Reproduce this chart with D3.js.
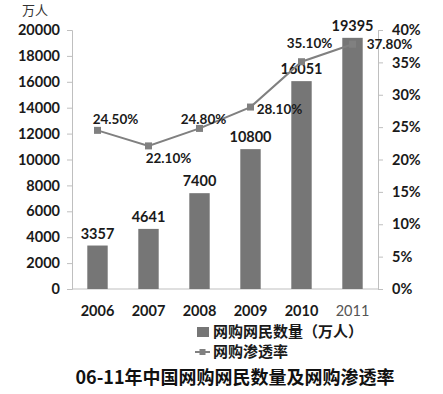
<!DOCTYPE html>
<html><head><meta charset="utf-8">
<script src="https://cdn.jsdelivr.net/npm/d3@7"></script>
<style>body{margin:0;background:#fff}svg{display:block}</style>
</head><body>
<svg id="c" width="443" height="394"></svg>
<script>
const years = ["2006","2007","2008","2009","2010","2011"];
const users = [3357, 4641, 7400, 10800, 16051, 19395];
const rates = [24.5, 22.1, 24.8, 28.1, 35.1, 37.8];
const leftTicks = [0,2000,4000,6000,8000,10000,12000,14000,16000,18000,20000];
const rightTicks = [0,5,10,15,20,25,30,35,40];
const barName = "网购网民数量（万人）";
const lineName = "网购渗透率";
const unitLabel = "万人";
const title = "06-11年中国网购网民数量及网购渗透率";
// label offsets (layout only)
const rateLabelOffset = [[18,-11],[20,12],[4,-9],[29,2],[8,-18],[37,0]];

const svg = d3.select("#c");
const L = 72, R = 378, T = 30, B = 289;
const numFont = "Lato, 'Open Sans', sans-serif";
const cjkFont = "'Noto Sans CJK SC', sans-serif";

const x = d3.scaleBand().domain(years).range([L, R]).paddingInner(0.6).paddingOuter(0.3);
const yL = d3.scaleLinear().domain([0, 20000]).range([B, T]);
const yR = d3.scaleLinear().domain([0, 40]).range([B, T]);

// axes
const axL = svg.append("g").attr("transform", `translate(${L},0)`)
  .call(d3.axisLeft(yL).tickValues(leftTicks).tickSize(5).tickPadding(7).tickFormat(d3.format("d")));
const axR = svg.append("g").attr("transform", `translate(${R},0)`)
  .call(d3.axisRight(yR).tickValues(rightTicks).tickSize(5).tickPadding(9).tickFormat(d => d + "%"));
const axB = svg.append("g").attr("transform", `translate(0,${B})`)
  .call(d3.axisBottom(x).tickSize(0).tickPadding(17));
[axL, axR, axB].forEach(a => {
  a.selectAll(".domain").attr("stroke", "#bfbfbf");
  a.selectAll(".tick line").attr("stroke", "#bfbfbf");
  a.selectAll("text").attr("font-family", numFont).attr("font-weight", "bold")
    .attr("font-size", 14.5).attr("fill", "#1a1a1a");
});
axB.select(".domain").attr("d", `M${L},0H${R}`);
axB.selectAll(".tick text").filter(d => d === "2011").attr("font-weight", "normal").attr("fill", "#555");

// bars
svg.append("g").selectAll("rect").data(users).join("rect")
  .attr("x", (d, i) => x(years[i]))
  .attr("width", x.bandwidth())
  .attr("y", d => yL(d))
  .attr("height", d => B - yL(d))
  .attr("fill", "#767676");
svg.append("g").selectAll("text").data(users).join("text")
  .attr("x", (d, i) => x(years[i]) + x.bandwidth() / 2)
  .attr("y", d => yL(d) - 7)
  .attr("text-anchor", "middle")
  .attr("font-family", numFont).attr("font-weight", "bold").attr("font-size", 14.5).attr("fill", "#1a1a1a")
  .text(d => d);

// line
const cx = i => x(years[i]) + x.bandwidth() / 2;
svg.append("path").datum(rates)
  .attr("fill", "none").attr("stroke", "#808080").attr("stroke-width", 2)
  .attr("d", d3.line().x((d, i) => cx(i)).y(d => yR(d)));
svg.append("g").selectAll("rect").data(rates).join("rect")
  .attr("x", (d, i) => cx(i) - 3.5).attr("y", d => yR(d) - 3.5)
  .attr("width", 7).attr("height", 7).attr("fill", "#808080");
svg.append("g").selectAll("text").data(rates).join("text")
  .attr("x", (d, i) => cx(i) + rateLabelOffset[i][0])
  .attr("y", (d, i) => yR(d) + rateLabelOffset[i][1])
  .attr("dy", "0.35em")
  .attr("text-anchor", "middle")
  .attr("font-family", numFont).attr("font-weight", "bold").attr("font-size", 13.5).attr("fill", "#1a1a1a")
  .text(d => d.toFixed(2) + "%");

// unit label
svg.append("text").attr("x", 35).attr("y", 15).attr("text-anchor", "middle")
  .attr("font-family", cjkFont).attr("font-size", 13).attr("fill", "#333").text(unitLabel);

// legend
const lg = svg.append("g");
lg.append("rect").attr("x", 197).attr("y", 327).attr("width", 12).attr("height", 10).attr("fill", "#767676");
lg.append("text").attr("x", 213).attr("y", 332).attr("dy", "0.35em")
  .attr("font-family", cjkFont).attr("font-weight", "bold").attr("font-size", 15).attr("fill", "#1a1a1a").text(barName);
lg.append("line").attr("x1", 195).attr("x2", 210).attr("y1", 352).attr("y2", 352).attr("stroke", "#808080").attr("stroke-width", 2);
lg.append("rect").attr("x", 199.5).attr("y", 349).attr("width", 6).attr("height", 6).attr("fill", "#808080");
lg.append("text").attr("x", 213).attr("y", 352).attr("dy", "0.35em")
  .attr("font-family", cjkFont).attr("font-weight", "bold").attr("font-size", 15).attr("fill", "#1a1a1a").text(lineName);

// title
svg.append("text").attr("x", 235).attr("y", 378).attr("dy", "0.35em").attr("text-anchor", "middle")
  .attr("font-family", cjkFont).attr("font-weight", "bold").attr("font-size", 18).attr("fill", "#111").text(title);
</script>
</body></html>
